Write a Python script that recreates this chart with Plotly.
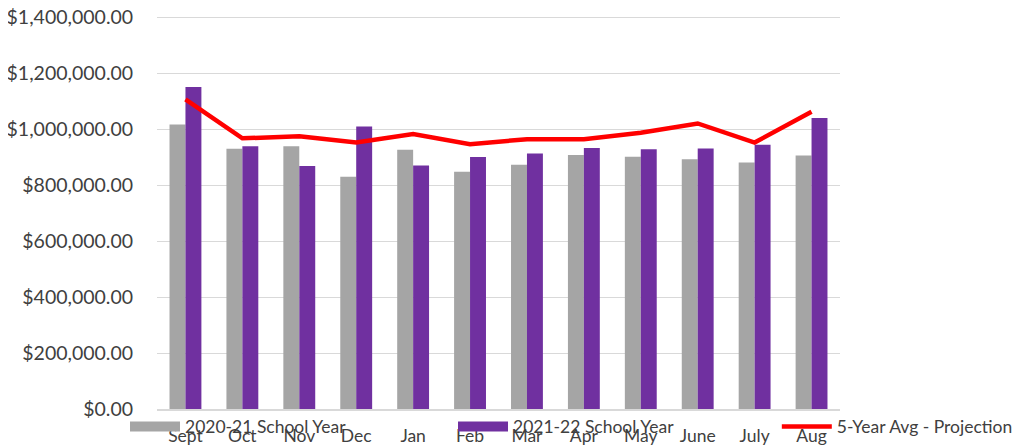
import plotly.graph_objects as go

months = ["Sept", "Oct", "Nov", "Dec", "Jan", "Feb", "Mar", "Apr", "May", "June", "July", "Aug"]
sy_2020_21 = [1016000, 930000, 939000, 830000, 926000, 848000, 873000, 907000, 901000, 892000, 881000, 906000]
sy_2021_22 = [1150000, 939000, 868000, 1009000, 870000, 900000, 913000, 932000, 928000, 931000, 944000, 1040000]
avg_5yr = [1106000, 967000, 974000, 952000, 982000, 946000, 964000, 964000, 987000, 1020000, 952000, 1062000]
y_ticks = [0, 200000, 400000, 600000, 800000, 1000000, 1200000, 1400000]

FONT = "Lato"
TXT = "#404040"
GRAY = "#A5A5A5"
PURPLE = "#7030A0"
RED = "#FF0000"

fig = go.Figure()
fig.add_trace(go.Bar(x=months, y=sy_2020_21, name="2020-21 School Year", showlegend=False,
                     legendgroup="a", marker=dict(color=GRAY, line=dict(width=0))))
fig.add_trace(go.Bar(x=months, y=sy_2021_22, name="2021-22 School Year", showlegend=False,
                     legendgroup="b", marker=dict(color=PURPLE, line=dict(width=0))))
fig.add_trace(go.Scatter(x=months, y=avg_5yr, name="5-Year Avg - Projection", mode="lines",
                         showlegend=False, legendgroup="c",
                         line=dict(color=RED, width=4.5)))
# legend entries (wide swatches like the original)
fig.add_trace(go.Scatter(x=[None], y=[None], name="2020-21 School Year", mode="lines",
                         legendgroup="a", line=dict(color=GRAY, width=10), legend="legend"))
fig.add_trace(go.Scatter(x=[None], y=[None], name="2021-22 School Year", mode="lines",
                         legendgroup="b", line=dict(color=PURPLE, width=10), legend="legend"))
fig.add_trace(go.Scatter(x=[None], y=[None], name="5-Year Avg - Projection", mode="lines",
                         legendgroup="c", line=dict(color=RED, width=4.5), legend="legend2"))

leg_common = dict(orientation="h", xref="container", yref="container",
                  xanchor="left", y=0.059, yanchor="middle",
                  bgcolor="rgba(0,0,0,0)", font=dict(family=FONT, size=17.5, color=TXT),
                  itemwidth=50, traceorder="normal", tracegroupgap=0)

fig.update_layout(
    width=1021, height=445,
    margin=dict(l=149, r=189, t=8, b=44, autoexpand=False),
    paper_bgcolor="white", plot_bgcolor="white",
    barmode="group", bargap=0.44, bargroupgap=0,
    font=dict(family=FONT, color=TXT, size=17.5),
    showlegend=True,
    legend=dict(x=0.1146, entrywidth=263, entrywidthmode="pixels", **leg_common),
    legend2=dict(x=0.753, **leg_common),
    xaxis=dict(showgrid=False, showline=True, linecolor="#D9D9D9", linewidth=1.5,
               automargin=False, ticklabeloverflow="allow",
               ticks="outside", ticklen=10, tickcolor="rgba(0,0,0,0)",
               tickfont=dict(family=FONT, size=17.5, color=TXT)),
    yaxis=dict(range=[0, 1404000], tickvals=y_ticks, automargin=False,
               ticklabeloverflow="allow",
               ticktext=["${:,.2f}".format(v) for v in y_ticks],
               showgrid=True, gridcolor="#D9D9D9", gridwidth=1.2, zeroline=False,
               showline=False, ticks="outside", ticklen=19, tickcolor="rgba(0,0,0,0)",
               tickfont=dict(family=FONT, size=19.5, color=TXT)),
)

fig.write_html("out.html")
